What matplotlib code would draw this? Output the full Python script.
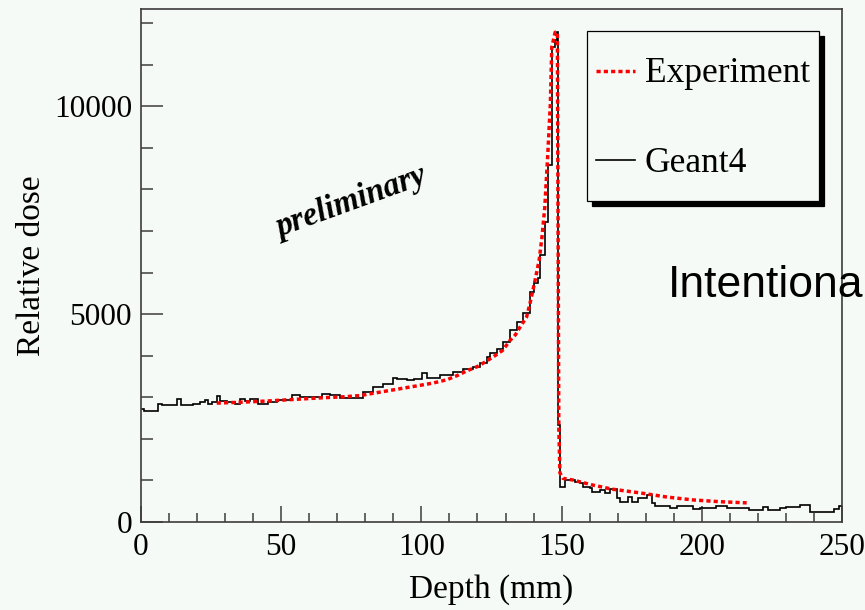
"""
Depth-dose curve: measured Bragg peak vs. Geant4 simulation.
"""

import numpy as np
import matplotlib.pyplot as plt
from matplotlib.lines import Line2D
from matplotlib.legend_handler import HandlerLine2D
from matplotlib.ticker import MultipleLocator

BG = '#f6faf7'
FRAME = '#3c3c3c'
SERIF = ['Liberation Serif', 'DejaVu Serif']
SANS = ['Liberation Sans', 'DejaVu Sans']

# Experiment (red dotted curve): depth [mm], relative dose
exp_depth = [27, 35, 45, 55, 65, 72, 78, 84, 91, 98, 104, 109, 113, 116,
             120, 123, 126, 129, 131.5, 133.5, 135.2, 137.5, 138.7, 140.5,
             142, 143, 144, 145, 146, 146.5, 147.7, 148.5, 149.0, 149.4,
             150.5, 154, 161, 168, 178, 187.6, 197, 206, 216]
exp_dose = [2860, 2880, 2910, 2950, 2990, 3010, 3040, 3110, 3190, 3270,
            3340, 3420, 3530, 3630, 3740, 3860, 3990, 4130, 4360, 4500,
            4690, 4930, 5250, 5800, 6300, 6850, 7570, 8750, 10070, 11420,
            11780, 11780, 2300, 1180, 1050, 1010, 890, 790, 700, 600, 530,
            490, 460]

# Geant4 histogram: bin edges [mm] and bin contents
g4_edges = [0, 1, 6, 7.5, 12.8, 14.2, 18.5, 21, 22.8, 23.8, 25.3, 27, 28.2,
            30.6, 33.5, 35.3, 37, 38.9, 41.7, 45.3, 48.5, 53.8, 56.7, 64.5,
            67.4, 71, 79.3, 82.8, 86.4, 90, 91.2, 94.8, 97.4, 100.1, 101.9,
            106.6, 111.4, 115, 118.5, 121, 123.3, 124.5, 126.9, 129.2, 131.6,
            134, 136.3, 138.7, 140, 141.6, 142.3, 144.1, 145.3, 146.5, 147.6,
            148.3, 148.8, 149.5, 151.2, 154.8, 156.6, 157.6, 160, 161, 163.7,
            165.5, 167.3, 169.8, 170.8, 173.7, 175, 177.2, 180.5, 182.2,
            183.3, 188.6, 191, 197, 199.5, 205, 209, 217, 222, 223.5, 228,
            230, 235, 238.6, 247, 249, 250]
g4_dose = [2730, 2670, 2850, 2810, 2960, 2810, 2850, 2880, 2930, 2850, 2890,
           3030, 2920, 2880, 2830, 2970, 2920, 2950, 2850, 2890, 2930, 3050,
           3010, 3070, 3050, 2990, 3130, 3250, 3330, 3470, 3450, 3410, 3430,
           3590, 3470, 3530, 3620, 3690, 3730, 3820, 3960, 4060, 4160, 4330,
           4620, 4800, 5020, 5530, 5740, 5860, 6420, 7210, 8580, 11420,
           11590, 11780, 2330, 850, 1010, 960, 930, 850, 810, 730, 770, 690,
           790, 570, 490, 610, 490, 570, 650, 450, 380, 330, 380, 310, 335,
           390, 335, 280, 360, 280, 335, 360, 415, 240, 310, 390]

X_MAX = 250
Y_MAX = 12340

EXP_STYLE = dict(color='red', linewidth=2.5, linestyle=(0, (1.2, 0.9)))
G4_STYLE = dict(color='black', linewidth=1.2)


class LoweredLine(HandlerLine2D):
    """Legend line pulled down to sit level with the label text."""
    shift = 7.0  # points

    def create_artists(self, *args, **kwargs):
        artists = super().create_artists(*args, **kwargs)
        for a in artists:
            a.set_ydata(np.asarray(a.get_ydata(), float) - self.shift)
        return artists


def main():
    plt.rcParams['font.family'] = SERIF
    fig = plt.figure(figsize=(8.65, 6.1), dpi=100, facecolor=BG)
    ax = fig.add_axes([141 / 865, 88 / 610, 701 / 865, 513 / 610])
    ax.set_facecolor(BG)

    ax.plot(exp_depth, exp_dose, zorder=3, **EXP_STYLE)
    ax.stairs(g4_dose, g4_edges, baseline=None, zorder=2, **G4_STYLE)

    ax.set_xlim(0, X_MAX)
    ax.set_ylim(0, Y_MAX)
    ax.xaxis.set_major_locator(MultipleLocator(50))
    ax.xaxis.set_minor_locator(MultipleLocator(10))
    ax.yaxis.set_major_locator(MultipleLocator(5000))
    ax.yaxis.set_minor_locator(MultipleLocator(1000))

    for spine in ax.spines.values():
        spine.set_color(FRAME)
        spine.set_linewidth(1.2)
    ax.tick_params(which='both', direction='in', color=FRAME, width=1.1,
                   labelsize=22.5, top=False, right=False)
    ax.tick_params(axis='x', which='major', length=11.5, pad=8)
    ax.tick_params(axis='x', which='minor', length=6.5)
    ax.tick_params(axis='y', which='major', length=15.5, pad=6.5)
    ax.tick_params(axis='y', which='minor', length=8.4)

    ax.set_xlabel('Depth (mm)', fontsize=24)
    ax.set_ylabel('Relative dose', fontsize=24)
    ax.xaxis.set_label_coords(0.5, -0.101)
    ax.yaxis.set_label_coords(-0.134, 0.5)

    handles = [Line2D([], [], **EXP_STYLE), Line2D([], [], **G4_STYLE)]
    leg = ax.legend(
        handles, ['Experiment', 'Geant4'],
        handler_map={Line2D: LoweredLine()},
        loc='upper left', bbox_to_anchor=(587 / 865, 1 - 31 / 610),
        bbox_transform=fig.transFigure, borderaxespad=0,
        fontsize=25.5, frameon=True, fancybox=False,
        shadow={'color': 'black', 'alpha': 1, 'ox': 3.6, 'oy': -3.6},
        borderpad=0.25, handlelength=1.1, handleheight=2.35,
        handletextpad=0.28, labelspacing=0.75,
    )
    frame = leg.get_frame()
    frame.set_facecolor(BG)
    frame.set_edgecolor('black')
    frame.set_linewidth(0.9)
    frame.set_alpha(1)

    ax.text(75, 7700, 'preliminary', rotation=20, ha='center',
            va='center', fontsize=23.5, fontweight='bold', style='italic')

    fig.text(668 / 865, 1 - 297 / 610, 'Intentiona', family=SANS,
             fontsize=32, va='baseline', ha='left')

    fig.savefig('out.png', dpi=100, facecolor=BG)
    plt.close(fig)


if __name__ == '__main__':
    main()
